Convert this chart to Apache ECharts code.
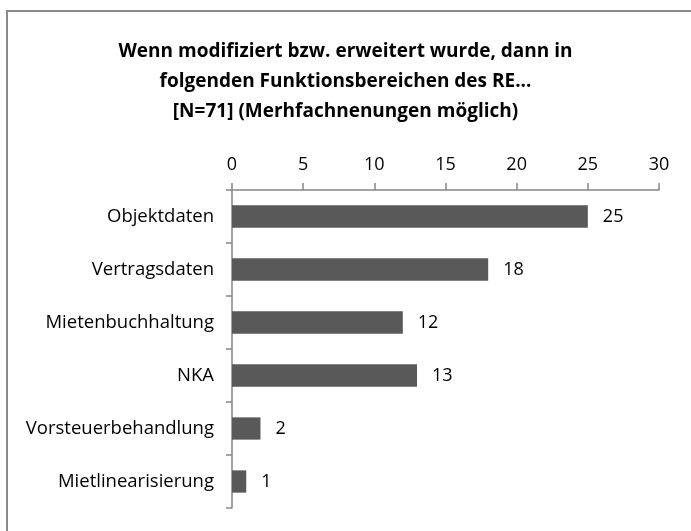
<!DOCTYPE html>
<html><head><meta charset="utf-8">
<script src="https://cdn.jsdelivr.net/npm/echarts@6/dist/echarts.min.js"></script>
<style>html,body{margin:0;padding:0;background:#fff}#c{width:691px;height:531px}</style>
</head><body><div id="c"></div>
<script>
const categories = ["Objektdaten","Vertragsdaten","Mietenbuchhaltung","NKA","Vorsteuerbehandlung","Mietlinearisierung"];
const values = [25,18,12,13,2,1];
const titleText = "Wenn modifiziert bzw. erweitert wurde, dann in\nfolgenden Funktionsbereichen des RE...\n[N=71] (Merhfachnenungen möglich)";
const chart = echarts.init(document.getElementById('c'));
const font = "'Open Sans', 'Noto Sans', sans-serif";
chart.setOption({
  animation:false,
  title:{text:titleText,left:'center',top:32,textStyle:{fontFamily:font,fontSize:19,fontWeight:'bold',color:'#000',lineHeight:30}},
  graphic:[{type:'rect',shape:{x:7,y:11,width:720,height:560},style:{fill:null,stroke:'#8a8a8a',lineWidth:2},silent:true}],
  grid:{left:232,right:32,top:190,bottom:23},
  xAxis:{type:'value',position:'top',min:0,max:30,interval:5,
    axisLine:{show:true,lineStyle:{color:'#868686',width:1.5}},
    axisTick:{show:true,length:7,lineStyle:{color:'#868686',width:1.5}},
    splitLine:{show:false},
    axisLabel:{fontFamily:font,fontSize:18,color:'#000',margin:16}},
  yAxis:{type:'category',data:categories,inverse:true,
    axisLine:{show:true,lineStyle:{color:'#868686',width:1.5}},
    axisTick:{show:true,length:6,lineStyle:{color:'#868686',width:1.5}},
    axisLabel:{fontFamily:font,fontSize:18.5,color:'#000',margin:18}},
  series:[{type:'bar',data:values,barCategoryGap:'58%',itemStyle:{color:'#595959'},
    label:{show:true,position:'right',distance:15,fontFamily:font,fontSize:18,color:'#000'}}]
});
</script></body></html>
